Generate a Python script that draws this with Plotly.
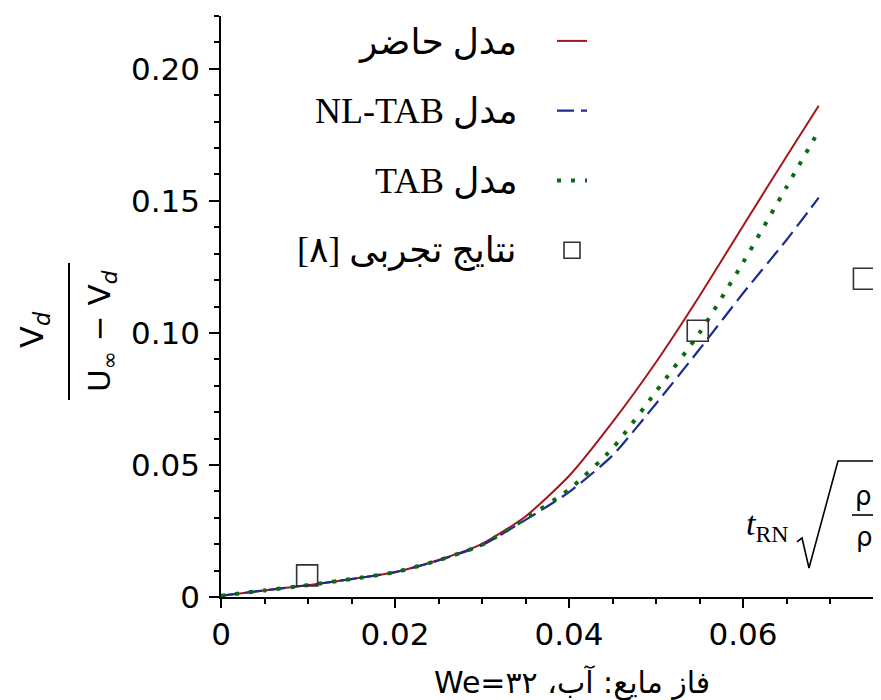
import plotly.graph_objects as go

# ---------------- data ----------------
x_model = [0.0, 0.005, 0.01, 0.015, 0.02, 0.025, 0.03, 0.035, 0.04, 0.045,
           0.05, 0.055, 0.06, 0.065, 0.0687]
y_present = [0.0005, 0.0025, 0.0045, 0.0068, 0.0094, 0.0140, 0.0201, 0.0305,
             0.0458, 0.0662, 0.0889, 0.1140, 0.1405, 0.1668, 0.1860]
y_nltab = [0.0005, 0.0025, 0.0045, 0.0068, 0.0094, 0.0138, 0.0196, 0.0292,
           0.0397, 0.0536, 0.0732, 0.0938, 0.1150, 0.1352, 0.1512]
y_tab = [0.0005, 0.0025, 0.0045, 0.0068, 0.0094, 0.0139, 0.0198, 0.0297,
         0.0407, 0.0563, 0.0778, 0.1000, 0.1266, 0.1552, 0.1765]
x_exp = [0.0099, 0.0548, 0.0739]
y_exp = [0.0082, 0.1008, 0.1205]

x_tickvals = [0, 0.02, 0.04, 0.06]
x_ticktext = ["0", "0.02", "0.04", "0.06"]
y_tickvals = [0, 0.05, 0.10, 0.15, 0.20]
y_ticktext = ["0", "0.05", "0.10", "0.15", "0.20"]

legend_texts = ["مدل حاضر", "مدل NL-TAB", "مدل TAB", "نتایج تجربی [۸]"]
bottom_text = "فاز مایع: آب، We=۳۲"

RED = "#a3161b"
BLUE = "#1c2c8f"
GREEN = "#0b6b12"

# ---------------- layout helpers ----------------
OFF = 8                      # page body margin
W, H = 881 - OFF, 700 - OFF
L, R, T, B = 221 - OFF, 0, 16 - OFF, 700 - 597
PW, PH = W - L - R, H - T - B


def xp(px):
    """screen pixel x -> paper coordinate"""
    return (px - OFF - L) / PW


def yp(py):
    """screen pixel y -> paper coordinate"""
    return (H - B - (py - OFF)) / PH


def rtl(s):
    return "\u202b" + s + "\u202c"


fig = go.Figure()
fig.add_trace(go.Scatter(x=x_model, y=y_present, mode="lines", name=" ",
                         legendgroup="a",
                         line=dict(color=RED, width=2, shape="spline", smoothing=0.6)))
fig.add_trace(go.Scatter(x=x_model, y=y_nltab, mode="lines", name=" ",
                         legendgroup="b",
                         line=dict(color=BLUE, width=2.2, dash="17px,7px",
                                   shape="spline", smoothing=0.6)))
fig.add_trace(go.Scatter(x=x_model, y=y_tab, mode="lines", name=" ",
                         legendgroup="c",
                         line=dict(color=GREEN, width=4, dash="4px,10px",
                                   shape="spline", smoothing=0.6)))
fig.add_trace(go.Scatter(x=x_exp, y=y_exp, mode="markers", name=" ",
                         legendgroup="d",
                         marker=dict(symbol="square-open", size=21,
                                     color="#333333", line=dict(width=1.6))))

axis_common = dict(showline=True, linecolor="black", linewidth=1.6,
                   ticks="outside", tickcolor="black", tickwidth=1.6,
                   showgrid=False, zeroline=False,
                   tickfont=dict(family="DejaVu Sans", size=31, color="black"))

fig.update_xaxes(range=[0, PW / 8700], tickvals=x_tickvals, ticktext=x_ticktext,
                 ticklen=9,
                 minor=dict(dtick=0.005, tick0=0, ticks="outside", ticklen=5,
                            tickcolor="black", tickwidth=1.6),
                 **axis_common)
fig.update_yaxes(range=[0, 0.22], tickvals=y_tickvals, ticktext=y_ticktext,
                 ticklen=10, ticklabelstandoff=3,
                 minor=dict(dtick=0.01, tick0=0, ticks="outside", ticklen=5,
                            tickcolor="black", tickwidth=1.6),
                 **axis_common)

annotations = []
# legend texts (right-to-left, placed left of the legend symbols)
for txt, py in zip(legend_texts, [43, 111, 181, 251]):
    annotations.append(dict(text=rtl(txt), xref="paper", yref="paper",
                            x=xp(519), y=yp(py), xanchor="right", yanchor="middle",
                            showarrow=False,
                            font=dict(family="Liberation Serif, DejaVu Sans",
                                      size=36, color="black")))
# bottom caption
annotations.append(dict(text=rtl(bottom_text), xref="paper", yref="paper",
                        x=xp(572), y=yp(683), xanchor="center", yanchor="middle",
                        showarrow=False,
                        font=dict(family="DejaVu Sans", size=30, color="black")))
# y-axis title as a fraction
annotations.append(dict(text="V<sub><i>d</i></sub>", xref="paper", yref="paper",
                        x=xp(34), y=yp(330), textangle=-90, showarrow=False,
                        xanchor="center", yanchor="middle",
                        font=dict(family="DejaVu Sans", size=32, color="black")))
annotations.append(dict(text="U<sub>∞</sub> − V<sub><i>d</i></sub>", xref="paper",
                        yref="paper", x=xp(101), y=yp(331), textangle=-90,
                        showarrow=False, xanchor="center", yanchor="middle",
                        font=dict(family="DejaVu Sans", size=31, color="black")))
# x-axis title (partly cut at the right edge)
annotations.append(dict(text="<i>t</i><sub>RN</sub>", xref="paper", yref="paper",
                        x=xp(767), y=yp(526), showarrow=False,
                        xanchor="center", yanchor="middle",
                        font=dict(family="Liberation Serif", size=34, color="black")))
annotations.append(dict(text="ρ", xref="paper", yref="paper",
                        x=xp(863), y=yp(496), showarrow=False,
                        xanchor="center", yanchor="middle",
                        font=dict(family="DejaVu Sans", size=26, color="black")))
annotations.append(dict(text="ρ<sub><i>l</i></sub>", xref="paper", yref="paper",
                        x=xp(863), y=yp(538), showarrow=False,
                        xanchor="left", yanchor="middle", xshift=-9,
                        font=dict(family="DejaVu Sans", size=26, color="black")))

shapes = [
    # fraction bar of y title
    dict(type="line", xref="paper", yref="paper", x0=xp(69), x1=xp(69),
         y0=yp(400), y1=yp(263), line=dict(color="black", width=2)),
    # radical sign
    dict(type="path", xref="paper", yref="paper",
         path="M {:.4f},{:.4f} L {:.4f},{:.4f} L {:.4f},{:.4f} L {:.4f},{:.4f} L {:.4f},{:.4f}".format(
             xp(797), yp(542), xp(802), yp(538), xp(809), yp(568),
             xp(838), yp(461), xp(881), yp(461)),
         line=dict(color="black", width=1.6)),
    # fraction bar under the radical
    dict(type="line", xref="paper", yref="paper", x0=xp(852), x1=xp(881),
         y0=yp(515), y1=yp(515), line=dict(color="black", width=1.6)),
]

fig.update_layout(
    width=W, height=H,
    margin=dict(l=L, r=R, t=T, b=B, pad=0),
    paper_bgcolor="white", plot_bgcolor="white",
    showlegend=True,
    legend=dict(x=xp(552), y=yp(24), xanchor="left", yanchor="top",
                bgcolor="rgba(0,0,0,0)", font=dict(size=16),
                tracegroupgap=46, traceorder="grouped", itemwidth=30),
    annotations=annotations,
    shapes=shapes,
)

fig.write_html("out.html")
